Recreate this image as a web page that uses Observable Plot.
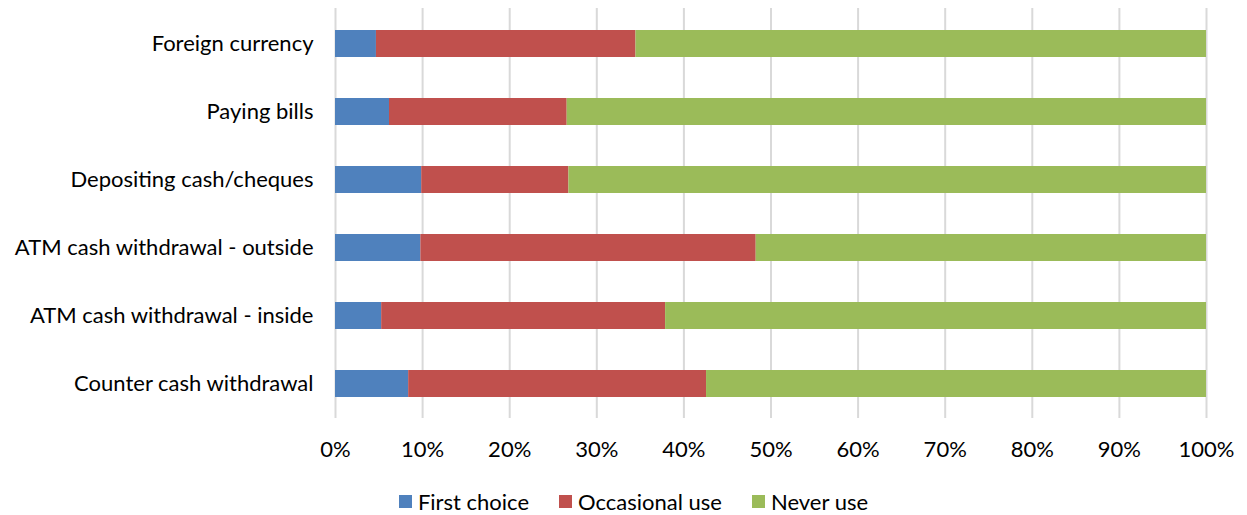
<!DOCTYPE html>
<html>
<head>
<meta charset="utf-8">
<script src="https://cdn.jsdelivr.net/npm/d3@7"></script>
<script src="https://cdn.jsdelivr.net/npm/@observablehq/plot@0.6"></script>
<style>
  html, body { margin: 0; padding: 0; background: #fff; }
  #chart { width: 1247px; font-family: Lato, "Open Sans", sans-serif; }
  .legend { display: flex; justify-content: center; align-items: center; height: 27px; padding-top: 20px; padding-left: 20px; font-size: 22px; color: #000; }
  .legend .item { display: flex; align-items: center; margin: 0 15px; }
  .legend .sw { width: 13px; height: 13px; margin-right: 6px; }
</style>
</head>
<body>
<div id="chart"></div>
<script>
// Share of respondents per banking service, in percent
const categories = [
  "Foreign currency",
  "Paying bills",
  "Depositing cash/cheques",
  "ATM cash withdrawal - outside",
  "ATM cash withdrawal - inside",
  "Counter cash withdrawal"
];
const seriesNames = ["First choice", "Occasional use", "Never use"];
const seriesColors = ["#4F81BD", "#C0504D", "#9BBB59"];
const firstChoice   = [4.7, 6.2, 9.9, 9.8, 5.3, 8.4];
const occasionalUse = [29.8, 20.4, 16.9, 38.5, 32.6, 34.2];
const neverUse      = [65.5, 73.4, 73.2, 51.7, 62.1, 57.4];
const xTicks = [0, 10, 20, 30, 40, 50, 60, 70, 80, 90, 100];

const seriesValues = [firstChoice, occasionalUse, neverUse];
const rows = [];
categories.forEach((c, i) => {
  seriesNames.forEach((s, j) => rows.push({category: c, series: s, value: seriesValues[j][i]}));
});

const plot = Plot.plot({
  width: 1247,
  height: 468,
  marginLeft: 335,
  marginRight: 41,
  marginTop: 8,
  marginBottom: 50,
  style: {fontFamily: "Lato, 'Open Sans', sans-serif", fontSize: "22px", color: "#000", background: "#fff"},
  x: {domain: [0, 100]},
  y: {domain: categories, paddingInner: 0.605, paddingOuter: 0.3025},
  color: {domain: seriesNames, range: seriesColors},
  marks: [
    Plot.gridX(xTicks, {stroke: "#d9d9d9", strokeOpacity: 1, strokeWidth: 2}),
    Plot.barX(rows, Plot.stackX({
      x: "value", y: "category", fill: "series",
      order: seriesNames, inset: 0
    })),
    Plot.axisX(xTicks, {tickSize: 0, tickPadding: 23, tickFormat: d => d + "%", label: null, fontSize: 22}),
    Plot.axisY({tickSize: 0, tickPadding: 22, label: null, fontSize: 22})
  ]
});

const root = document.getElementById("chart");
root.appendChild(plot);

const legend = document.createElement("div");
legend.className = "legend";
seriesNames.forEach((s, i) => {
  const item = document.createElement("div");
  item.className = "item";
  const sw = document.createElement("span");
  sw.className = "sw";
  sw.style.background = seriesColors[i];
  const label = document.createElement("span");
  label.textContent = s;
  item.appendChild(sw);
  item.appendChild(label);
  legend.appendChild(item);
});
root.appendChild(legend);
</script>
</body>
</html>
